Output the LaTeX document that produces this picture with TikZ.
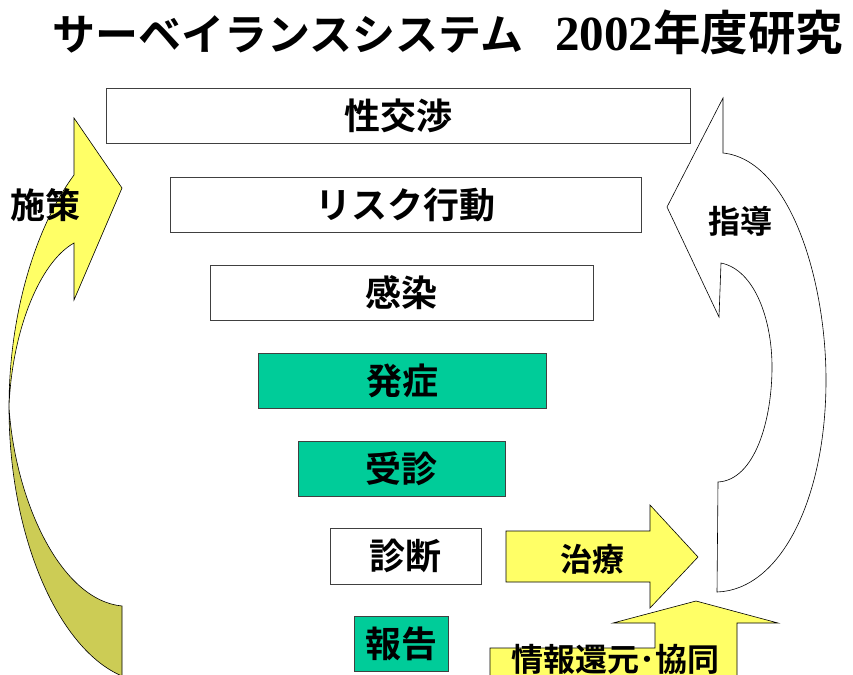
\documentclass[tikz,border=0pt]{standalone}
\usepackage{fontspec}
\newfontfamily\jp{Noto Sans CJK JP}[BoldFont=* Bold]
\newfontfamily\serifb{Liberation Serif}
\definecolor{teal1}{RGB}{0,204,153}
\definecolor{yel}{RGB}{255,255,102}
\definecolor{olive1}{RGB}{204,204,85}
\tikzset{
  lvl/.style={draw=black!75, line width=0.8pt, fill=white, inner sep=0pt,
    font=\jp\bfseries\fontsize{36}{38}\selectfont},
  lvlg/.style={lvl, fill=teal1},
  shp/.style={draw=black, line width=0.6pt, line join=miter},
  lbl/.style={inner sep=0pt, font=\jp\bfseries\fontsize{32}{34}\selectfont}
}
\begin{document}
\begin{tikzpicture}[x=1pt,y=-1pt]
\useasboundingbox (0,0) rectangle (853,674);
% title
\node[anchor=west, inner sep=0pt] (title) at (52,33)
  {\jp\bfseries\fontsize{43}{48}\selectfont サーベイランスシステム\hspace{32pt}{\serifb\bfseries\fontsize{49}{50}\selectfont 2002}{\fontsize{47.5}{48}\selectfont 年度研究}};
% level boxes
\node[lvl,  minimum width=584pt, minimum height=55pt] (b1) at (398,115.5) {性交渉};
\node[lvl,  minimum width=471pt, minimum height=55pt] (b2) at (405.5,204.5) {リスク行動};
\node[lvl,  minimum width=383pt, minimum height=55pt] (b3) at (401.5,292.5) {感染};
\node[lvlg, minimum width=288pt, minimum height=55pt] (b4) at (402,380.5) {発症};
\node[lvlg, minimum width=207pt, minimum height=55pt] (b5) at (401.5,468.5) {受診};
\node[lvl,  minimum width=151pt, minimum height=56pt] (b6) at (405.5,556) {診断};
\node[lvlg, minimum width=94pt,  minimum height=55pt] (b7) at (401,643.5) {報告};
% left curved arrow (upper, light side)
\draw[shp, fill=yel] (122,188) -- (74,118) -- (74,175)
  .. controls (35,228) and (9,315) .. (9,407)
  .. controls (12,330) and (40,262) .. (74,243)
  -- (74,300) -- cycle;
% left curved arrow (lower, dark side)
\draw[shp, fill=olive1] (9,407)
  .. controls (9,540) and (60,650) .. (122,676)
  -- (122,606)
  .. controls (60,600) and (15,500) .. (9,407) -- cycle;
\node[lbl, font=\jp\bfseries\fontsize{35}{36}\selectfont] (shisaku) at (45,205) {施策};
% right curved arrow (white)
\draw[shp, fill=white] (667,207) -- (723,98) -- (723,153)
  .. controls (790,160) and (826,280) .. (826,380)
  .. controls (826,500) and (780,590) .. (717,592)
  -- (718,482)
  .. controls (755,480) and (772,420) .. (772,367)
  .. controls (772,320) and (755,270) .. (721,263)
  -- (719,317) -- cycle;
\node[lbl] (shidou) at (740,221) {指導};
% treatment arrow
\draw[shp, fill=yel] (506,531) -- (650,531) -- (650,505) -- (698,557)
  -- (650,608) -- (650,582) -- (506,582) -- cycle;
\node[lbl] (chiryou) at (592,559) {治療};
% feedback up arrow
\draw[shp, fill=yel] (490,680) -- (490,648) -- (655,648) -- (655,623)
  -- (613,623) -- (696,601) -- (778,623) -- (737,623) -- (737,680) -- cycle;
\node[lbl] (joho) at (615,659) {情報還元･協同};
\end{tikzpicture}
\end{document}
